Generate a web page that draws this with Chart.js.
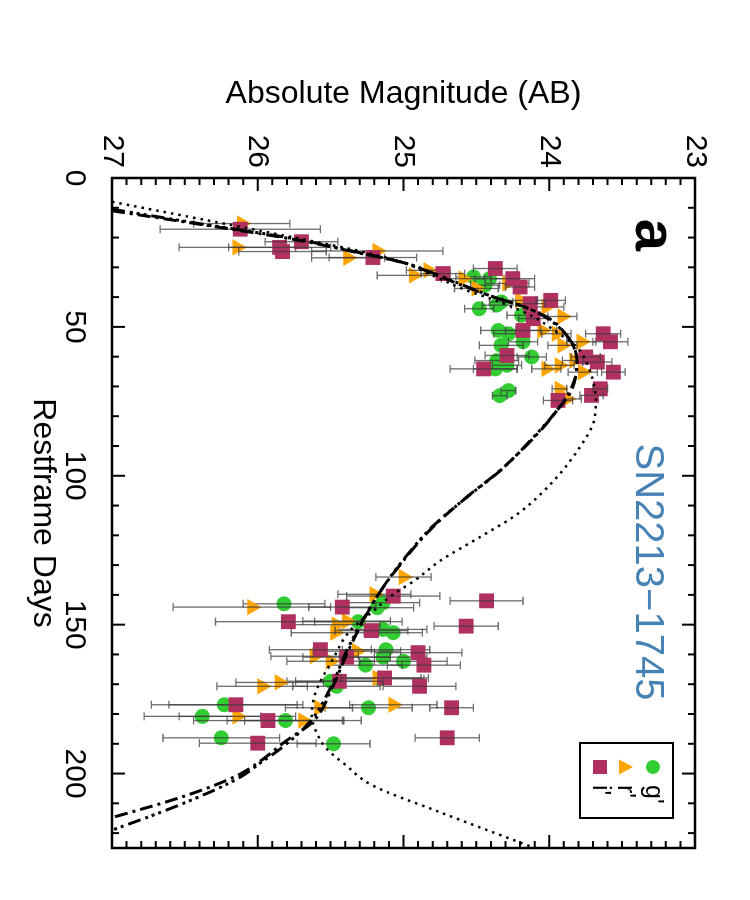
<!DOCTYPE html>
<html>
<head>
<meta charset="utf-8">
<title>SN2213-1745 light curve</title>
<script src="https://cdn.jsdelivr.net/npm/chart.js@4.4.1/dist/chart.umd.min.js"></script>
<style>
  html, body { margin: 0; padding: 0; background: #fff; }
  body { width: 750px; height: 900px; overflow: hidden; position: relative; }
  /* the figure is drawn landscape and turned a quarter turn clockwise */
  #wrap {
    position: absolute; left: 0; top: 0;
    width: 900px; height: 750px;
    transform-origin: 0 0;
    transform: translateX(750px) rotate(90deg);
  }
</style>
</head>
<body>
<div id="wrap"><canvas id="lc" width="900" height="750"></canvas></div>
<script>
// =============== DATA ===============
const dayTicks = [0, 50, 100, 150, 200];
const magTicks = [23, 24, 25, 26, 27];
const bandNames = ["g'", "r'", "i'"];

// g' band (green circles)
const gDays = [33.2, 33.8, 36.0, 41.6, 42.7, 43.9, 46.1, 51.2, 52.3, 55.0, 56.2, 60.1, 61.3, 62.9, 64.1, 71.4, 73.1,
               142.6, 143.0, 144.3, 149.0, 151.6, 152.7, 158.4, 160.9, 162.3, 163.6, 168.2, 169.0, 170.7, 176.9, 177.9, 180.8, 182.2, 188.0, 190.0];
const gMag  = [24.52, 24.41, 24.44, 24.33, 24.36, 24.48, 24.19, 24.35, 24.28, 24.18, 24.33, 24.12, 24.36, 24.29, 24.37, 24.28, 24.34,
               25.14, 25.82, 25.18, 25.31, 25.14, 25.07, 25.12, 25.14, 25.00, 25.26, 25.16, 25.50, 25.46, 26.23, 25.24, 26.38, 25.81, 26.25, 25.48];
const gErr  = [0.12, 0.10, 0.10, 0.08, 0.10, 0.10, 0.10, 0.12, 0.10, 0.10, 0.15, 0.10, 0.15, 0.10, 0.15, 0.05, 0.05,
               0.25, 0.28, 0.25, 0.30, 0.30, 0.20, 0.30, 0.30, 0.30, 0.25, 0.30, 0.30, 0.30, 0.50, 0.30, 0.40, 0.40, 0.40, 0.25];

// r' band (orange triangles)
const rDays = [15.3, 23.3, 24.5, 26.8, 31.0, 32.7, 33.8, 35.4, 37.1, 41.1, 43.3, 46.5, 51.2, 52.3, 55.0, 56.2, 61.3, 62.9, 64.1, 65.2, 70.8, 74.2,
               134.0, 139.8, 144.1, 148.8, 150.0, 152.7, 158.9, 160.6, 162.3, 167.9, 169.4, 170.7, 176.9, 177.9, 180.8, 182.2];
const rMag  = [26.11, 26.14, 25.18, 25.38, 24.83, 24.93, 24.59, 24.29, 24.50, 24.20, 24.02, 23.91, 24.05, 23.95, 23.78, 23.91, 23.83, 23.93, 24.02, 23.77, 23.93, 23.88,
               25.00, 25.20, 26.04, 25.39, 25.46, 25.47, 25.32, 25.61, 25.50, 25.18, 25.85, 25.97, 25.07, 25.58, 26.14, 25.69];
const rErr  = [0.33, 0.40, 0.45, 0.25, 0.15, 0.25, 0.15, 0.15, 0.15, 0.12, 0.12, 0.10, 0.10, 0.10, 0.10, 0.10, 0.08, 0.10, 0.10, 0.10, 0.05, 0.10,
               0.19, 0.25, 0.54, 0.30, 0.30, 0.30, 0.30, 0.30, 0.30, 0.30, 0.30, 0.31, 0.30, 0.23, 0.40, 0.40];

// i' band (maroon squares)
const iDays = [17.2, 21.4, 23.3, 24.7, 26.7, 30.4, 32.1, 33.8, 36.6, 41.1, 42.2, 47.2, 51.2, 52.3, 55.0, 59.6, 60.1, 61.8, 64.1, 65.2, 70.8, 73.0, 74.7,
               140.4, 142.0, 144.1, 149.0, 150.5, 152.0, 158.4, 159.4, 160.9, 163.6, 167.9, 169.0, 170.7, 176.9, 177.9, 182.2, 188.0, 189.8];
const iMag  = [26.12, 25.70, 25.85, 25.83, 25.21, 24.37, 24.73, 24.25, 24.20, 23.99, 24.13, 24.11, 24.18, 23.63, 23.58, 24.29, 23.75, 23.67, 24.45, 23.56, 23.65, 23.71, 23.94,
               25.07, 24.43, 25.42, 25.79, 24.57, 25.22, 25.57, 24.90, 25.39, 24.86, 25.13, 25.44, 24.89, 26.15, 24.67, 25.93, 24.70, 26.00];
const iErr  = [0.55, 0.25, 0.35, 0.30, 0.30, 0.15, 0.15, 0.15, 0.10, 0.10, 0.10, 0.10, 0.12, 0.12, 0.12, 0.15, 0.10, 0.10, 0.23, 0.08, 0.05, 0.08, 0.10,
               0.32, 0.25, 0.23, 0.50, 0.22, 0.25, 0.35, 0.30, 0.30, 0.25, 0.30, 0.30, 0.25, 0.46, 0.15, 0.51, 0.22, 0.40];

// model curves (dash-dot, dash-dot-dot, dotted)
const m1Days = [11, 15.3, 20.9, 25, 28.7, 32.1, 36.6, 40, 43.3, 47.2, 52.9, 56.8, 61.3, 66.8, 72.5, 77, 84.8, 98.3, 107.3, 117.3,
                129.7, 140.4, 157.8, 171.2, 182.5, 189.2, 195, 200.4, 207.2, 214.5, 220];
const m1Mag  = [27.0, 26.43, 25.72, 25.32, 24.98, 24.80, 24.57, 24.38, 24.17, 24.00, 23.88, 23.83, 23.81, 23.82, 23.86, 23.93, 24.06, 24.34, 24.57, 24.80,
                25.02, 25.18, 25.37, 25.49, 25.62, 25.81, 25.96, 26.13, 26.48, 26.98, 27.4];
const m2Days = [10.5, 15, 20.5, 25, 28.7, 32.1, 36.6, 40, 43.3, 47.2, 52.9, 57, 61.5, 67, 72.5, 77, 85, 98, 107, 117,
                130, 140.4, 157.8, 171.2, 182.5, 191.5, 196, 201.5, 209.4, 219, 224];
const m2Mag  = [27.0, 26.44, 25.74, 25.31, 24.98, 24.79, 24.56, 24.38, 24.17, 24.01, 23.88, 23.83, 23.81, 23.82, 23.87, 23.93, 24.07, 24.33, 24.56, 24.80,
                25.03, 25.18, 25.38, 25.50, 25.64, 25.84, 25.97, 26.13, 26.48, 27.0, 27.3];
const m3Days = [8, 12, 16, 20.3, 24, 28.1, 33.2, 37.7, 41.6, 46.6, 51.7, 56.8, 62.4, 68, 74.7, 82.6, 90.4, 101.7, 112.9, 120.7,
                128.6, 135.4, 139.8, 145.5, 152.2, 161.2, 172.4, 180.2, 185.9, 191.5, 197, 203.8, 212.8, 218, 225];
const m3Mag  = [27.0, 26.58, 26.16, 25.72, 25.35, 25.02, 24.78, 24.57, 24.34, 24.11, 23.95, 23.81, 23.74, 23.70, 23.68, 23.70, 23.79, 23.97, 24.22, 24.48,
                24.75, 24.93, 25.07, 25.21, 25.37, 25.48, 25.60, 25.63, 25.60, 25.53, 25.40, 25.22, 24.76, 24.48, 24.10];

// =============== STYLE ===============
const FONT = "'Liberation Sans', Arial, Helvetica, sans-serif";
const green = 'rgb(50,205,50)';
const orange = 'rgb(255,165,0)';
const maroon = 'rgb(176,48,96)';

const toPts = (xs, ys) => xs.map((d, k) => ({ x: d, y: ys[k] }));

function bandSet(label, xs, ys, errs, color, style, radius, order) {
    return {
        type: 'scatter',
        label: label,
        data: toPts(xs, ys),
        errors: errs,
        pointStyle: style,
        pointRadius: radius,
        pointBackgroundColor: color,
        pointBorderColor: color,
        pointBorderWidth: 0,
        order: order
    };
}

function modelSet(label, xs, ys, dash, width) {
    return {
        type: 'line',
        label: label,
        data: toPts(xs, ys),
        borderColor: '#000',
        borderWidth: width,
        borderDash: dash,
        pointRadius: 0,
        fill: false,
        cubicInterpolationMode: 'monotone',
        order: 0
    };
}

// =============== PLUGINS ===============
// error bars, drawn right after each band's markers
const errorBars = {
    id: 'errorBars',
    afterDatasetDraw(chart, args) {
        const ds = chart.data.datasets[args.index];
        if (!ds.errors) return;
        const { ctx, scales: { x, y } } = chart;
        ctx.save();
        ctx.strokeStyle = 'rgba(60,60,60,0.75)';
        ctx.lineWidth = 1.3;
        ds.data.forEach((p, k) => {
            const e = ds.errors[k];
            const px = x.getPixelForValue(p.x);
            const y1 = y.getPixelForValue(p.y - e);
            const y2 = y.getPixelForValue(p.y + e);
            ctx.beginPath();
            ctx.moveTo(px, y1); ctx.lineTo(px, y2);
            ctx.moveTo(px - 4, y1); ctx.lineTo(px + 4, y1);
            ctx.moveTo(px - 4, y2); ctx.lineTo(px + 4, y2);
            ctx.stroke();
        });
        ctx.restore();
    }
};

// box round the plot with inward ticks on all four sides
const frameTicks = {
    id: 'frameTicks',
    afterDatasetsDraw(chart) {
        const { ctx, chartArea: a, scales: { x, y } } = chart;
        ctx.save();
        ctx.strokeStyle = '#000';
        ctx.lineWidth = 2;
        ctx.beginPath();
        for (let d = 0; d <= x.max; d += 10) {
            const px = x.getPixelForValue(d);
            const len = d % 50 === 0 ? 13 : 7;
            ctx.moveTo(px, a.bottom); ctx.lineTo(px, a.bottom - len);
            ctx.moveTo(px, a.top); ctx.lineTo(px, a.top + len);
        }
        for (let k = 0; k <= 40; k++) {
            const py = y.getPixelForValue(23 + k * 0.1);
            const len = k % 10 === 0 ? 13 : 7;
            ctx.moveTo(a.left, py); ctx.lineTo(a.left + len, py);
            ctx.moveTo(a.right, py); ctx.lineTo(a.right - len, py);
        }
        ctx.stroke();
        ctx.lineWidth = 2.5;
        ctx.strokeRect(a.left, a.top, a.right - a.left, a.bottom - a.top);
        ctx.restore();
    }
};

// panel letter, object name and legend box
const annotations = {
    id: 'annotations',
    afterDraw(chart) {
        const { ctx, chartArea: a } = chart;
        ctx.save();
        ctx.fillStyle = '#000';
        ctx.font = 'bold 58px ' + FONT;
        ctx.textAlign = 'center';
        ctx.textBaseline = 'alphabetic';
        ctx.fillText('a', a.left + 57, a.top + 59);

        ctx.fillStyle = '#4682b4';
        ctx.font = '40px ' + FONT;
        ctx.fillText('SN2213\u22121745', a.left + 394, a.top + 59);

        // legend
        const bx = a.right - 105, by = a.top + 22;
        ctx.strokeStyle = '#000';
        ctx.lineWidth = 2;
        ctx.strokeRect(bx, by, 75, 93);
        const colors = [green, orange, maroon];
        const rowsY = [by + 20, by + 48, by + 73];
        const mx = bx + 24;
        rowsY.forEach((ry, k) => {
            ctx.fillStyle = colors[k];
            ctx.beginPath();
            if (k === 0) {
                ctx.arc(mx, ry, 7, 0, Math.PI * 2);
            } else if (k === 1) {
                ctx.moveTo(mx, ry - 8); ctx.lineTo(mx + 7.5, ry + 6); ctx.lineTo(mx - 7.5, ry + 6); ctx.closePath();
            } else {
                ctx.rect(mx - 7, ry - 7, 14, 14);
            }
            ctx.fill();
            ctx.fillStyle = '#000';
            ctx.font = '25px ' + FONT;
            ctx.textAlign = 'left';
            ctx.textBaseline = 'middle';
            ctx.fillText(bandNames[k], bx + 42, ry);
        });
        ctx.restore();
    }
};

// =============== CHART ===============
const tickFont = { family: FONT, size: 30 };
const titleFont = { family: FONT, size: 32 };

new Chart(document.getElementById('lc').getContext('2d'), {
    data: {
        datasets: [
            modelSet('model 1', m1Days, m1Mag, [13, 5, 3, 5], 3),
            modelSet('model 2', m2Days, m2Mag, [13, 5, 3, 4, 3, 4, 3, 5], 3),
            modelSet('model 3', m3Days, m3Mag, [2.5, 5], 2.5),
            bandSet(bandNames[0], gDays, gMag, gErr, green, 'circle', 7.5, 3),
            bandSet(bandNames[1], rDays, rMag, rErr, orange, 'triangle', 9.5, 2),
            bandSet(bandNames[2], iDays, iMag, iErr, maroon, 'rect', 10.5, 1)
        ]
    },
    options: {
        responsive: false,
        animation: false,
        layout: { padding: { top: 55, right: 52, left: 0, bottom: 0 } },
        plugins: {
            legend: { display: false },
            tooltip: { enabled: false }
        },
        scales: {
            x: {
                type: 'linear',
                position: 'bottom',
                min: 0,
                max: 225,
                afterBuildTicks: s => { s.ticks = dayTicks.map(v => ({ value: v })); },
                afterFit: s => { s.height = 112; },
                ticks: { color: '#000', font: tickFont, padding: 20, maxRotation: 0, autoSkip: false },
                grid: { display: false, drawTicks: false },
                border: { display: false },
                title: { display: true, text: 'Restframe Days', color: '#000', font: titleFont, padding: { top: 0, bottom: 24 } }
            },
            y: {
                type: 'linear',
                position: 'left',
                min: 23,
                max: 27,
                reverse: true,
                afterBuildTicks: s => { s.ticks = magTicks.map(v => ({ value: v })); },
                afterFit: s => { s.width = 178; },
                ticks: { color: '#000', font: tickFont, padding: 10, autoSkip: false },
                grid: { display: false, drawTicks: false },
                border: { display: false },
                title: { display: true, text: 'Absolute Magnitude (AB)', color: '#000', font: titleFont, padding: { top: 75, bottom: 0 } }
            }
        }
    },
    plugins: [errorBars, frameTicks, annotations]
});
</script>
</body>
</html>
